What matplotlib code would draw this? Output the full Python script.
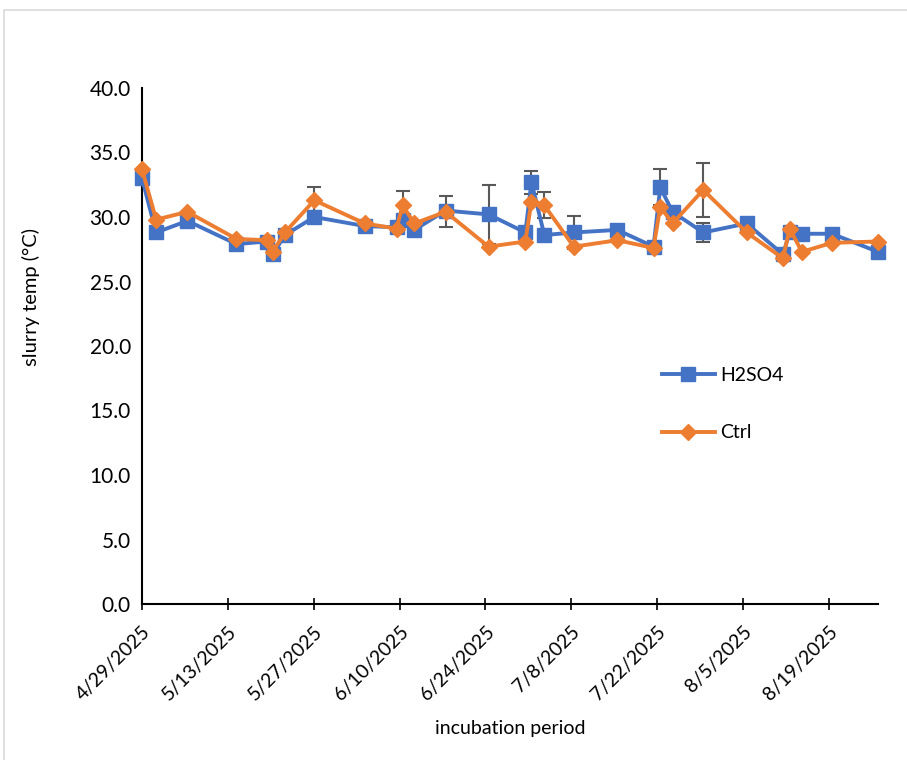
import matplotlib
matplotlib.use("Agg")
import matplotlib.pyplot as plt
from matplotlib.patches import Rectangle
import pandas as pd

plt.rcParams['font.family'] = ['Lato', 'DejaVu Sans']

# sampling time, in days since the start of incubation (time of day included)
start = pd.Timestamp('2025-04-29')
day = [0, 2.3, 7.4, 15.4, 20.3, 21.3, 23.3, 28.1, 36.3, 41.5, 42.5, 44.4, 49.5,
       56.5, 62.5, 63.5, 65.6, 70.4, 77.5, 83.4, 84.5, 86.5, 91.5, 98.6, 104.5,
       105.6, 107.6, 112.5, 120]

h2so4 = [33.0, 28.8, 29.7, 27.9, 28.1, 27.1, 28.6, 30.0, 29.3, 29.2, 29.8, 29.0,
         30.5, 30.2, 28.8, 32.7, 28.6, 28.8, 29.0, 27.7, 32.3, 30.4, 28.8, 29.5,
         27.1, 28.8, 28.7, 28.7, 27.3]
h2so4_err = [0, 0, 0.3, 0, 0, 0, 0, 0, 0, 0, 0, 0,
             0, 2.3, 0, 0.9, 0, 1.3, 0, 0, 1.4, 0, 0.7, 0,
             0, 0, 0, 0, 0]

ctrl = [33.7, 29.8, 30.4, 28.3, 28.2, 27.3, 28.8, 31.3, 29.5, 29.1, 30.9, 29.5,
        30.4, 27.7, 28.1, 31.2, 30.9, 27.7, 28.2, 27.6, 30.8, 29.5, 32.1, 28.8,
        26.8, 29.1, 27.3, 28.0, 28.1]
ctrl_err = [0, 0, 0, 0, 0, 0, 0, 1.0, 0, 0, 1.1, 0,
            1.2, 0, 0, 0, 1.0, 0, 0, 0, 0, 0, 2.1, 0,
            0, 0, 0, 0, 0]

dates = [start + pd.Timedelta(days=d) for d in day]
tick_dates = [start + pd.Timedelta(days=14 * i) for i in range(9)]
tick_labels = [f"{d.month}/{d.day}/{d.year}" for d in tick_dates]

blue = '#4472C4'
orange = '#ED7D31'

fig = plt.figure(figsize=(9.07, 7.6), dpi=100)
ax = fig.add_axes([142 / 907, 1 - 604 / 760, (878 - 142) / 907, (604 - 88) / 760])

# light chart-area border
fig.patches.append(Rectangle((4 / 907, -0.1), 1.2, 1.1 - 10 / 760, transform=fig.transFigure,
                             fill=False, edgecolor='#D9D9D9', linewidth=1.2))

ax.errorbar(dates, h2so4, yerr=h2so4_err, fmt='none', ecolor='#595959',
            elinewidth=1.5, capsize=5, capthick=1.5, zorder=1)
ax.errorbar(dates, ctrl, yerr=ctrl_err, fmt='none', ecolor='#595959',
            elinewidth=1.5, capsize=5, capthick=1.5, zorder=1)

ax.plot(dates, h2so4, color=blue, linewidth=2.8, marker='s', markersize=9.5,
        label='H2SO4', zorder=3, clip_on=False)
ax.plot(dates, ctrl, color=orange, linewidth=2.8, marker='D', markersize=8.5,
        label='Ctrl', zorder=4, clip_on=False)

ax.set_xlim(start, start + pd.Timedelta(days=120))
ax.set_ylim(0, 40)
ax.set_yticks(range(0, 41, 5))
ax.set_yticklabels([f"{v:.1f}" for v in range(0, 41, 5)], fontsize=15)
ax.set_xticks(tick_dates)
ax.set_xticklabels(tick_labels, rotation=45, ha='right', rotation_mode='anchor', fontsize=14)

ax.tick_params(axis='y', length=0, pad=8)
ax.tick_params(axis='x', direction='inout', length=9, width=1.2, pad=9)

for s in ['top', 'right']:
    ax.spines[s].set_visible(False)
for s in ['left', 'bottom']:
    ax.spines[s].set_linewidth(1.5)

ax.set_ylabel('slurry temp (°C)', fontsize=14.5)
ax.yaxis.set_label_coords(-0.139, 0.595)
ax.set_xlabel('incubation period', fontsize=14, labelpad=12)

ax.legend(loc='upper left', bbox_to_anchor=(0.683, 0.494), frameon=False, fontsize=14,
          handlelength=2.7, labelspacing=2.1, handletextpad=0.3)

fig.savefig('out.png', dpi=100)
